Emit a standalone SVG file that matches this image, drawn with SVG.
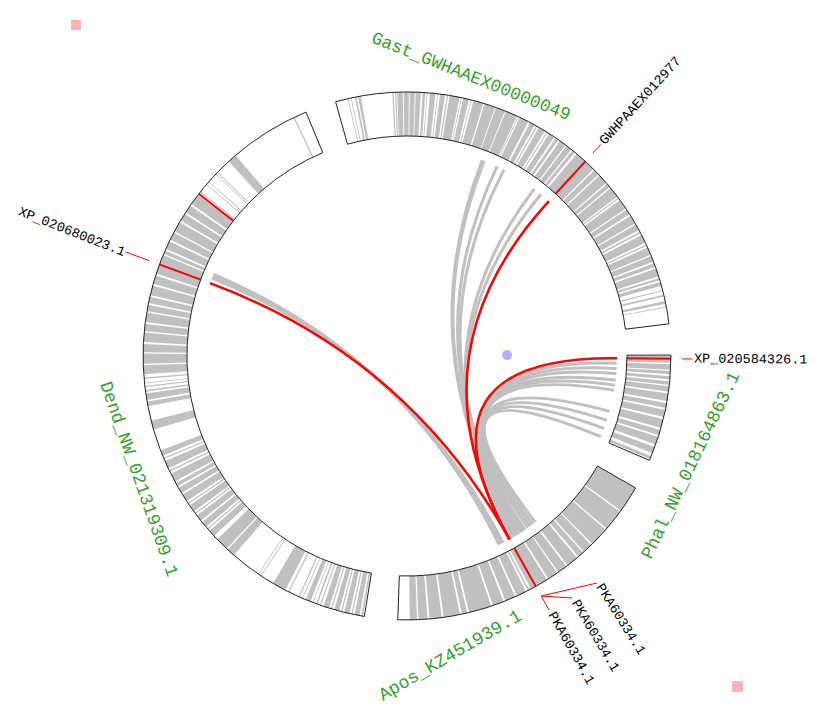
<svg xmlns="http://www.w3.org/2000/svg" width="824" height="727" viewBox="0 0 824 727">
<style>
.band{fill:none;stroke:#c0c0c0;stroke-width:44}
.out{fill:none;stroke:#222;stroke-width:1}
.mark{stroke:#f00;stroke-width:2}
.lk{fill:none;stroke:#c0c0c0;stroke-width:3}
.lr{fill:none;stroke:#f00;stroke-width:2.5}
.lab{font-family:"Liberation Mono",monospace;font-size:18px;fill:#33a02c}
.tag{font-family:"Liberation Mono",monospace;font-size:13.5px;fill:#000;dominant-baseline:central}
.ptr{stroke:#f00;stroke-width:1;fill:none}
</style>
<rect width="824" height="727" fill="#fff"/>
<rect x="71" y="20" width="10" height="10" fill="#ffb3b3"/>
<rect x="732" y="681" width="11" height="11" fill="#ffb3b3"/>

<g id="gast">
<circle class="band" cx="407" cy="356" r="242" pathLength="360" transform="rotate(-105.7 407 356)" stroke-dasharray="0 2.7 0.2 0.5 0.2 0.7 0.4 0.3 0.6 6.9 0.3 0.3 0.3 0.2 1.2 0.2 1.1 0.2 1.1 0.2 1.1 0.4 0.6 0.3 0.2 0.5 1.2 0.4 0.2 0.4 1.1 0.4 0.3 0.3 2.2 0.3 0.2 0.3 1.3 0.4 0.2 0.4 2.2 0.3 2.4 0.2 2.1 0.2 2.6 0.2 0.2 0.3 2.1 0.4 1.1 0.4 0.3 0.4 1.5 0.4 0.3 0.4 1.3 0.4 0.7 0.4 1.5 0.3 1.3 0.3 0.7 0.5 4.9 0.3 1.3 0.3 2.2 0.3 0.9 0.3 2.3 0.3 0.3 0.4 2.2 0.3 1.2 0.4 1.9 0.3 1.4 0.4 0.4 0.4 1.9 0.4 0.3 0.4 1.7 0.3 1.3 0.4 0.8 0.4 1.8 0.4 0.5 0.4 0.9 0.9 0.3 0.8 0.4 1.0 0.6 0.6 0.2 400"/>
<line class="mark" x1="407" y1="136" x2="407" y2="92" transform="rotate(42.5 407 356)"/>
<path class="out" d="M335.6,101.8 A264,264 0 0 1 669.0,323.8 L625.4,329.2 A220,220 0 0 0 347.5,144.2 Z"/>
<text class="lab" style="font-size:17.7px" transform="translate(370.5,42) rotate(21.7)">Gast_GWHAAEX00000049</text>
<line class="ptr" x1="592.8" y1="153.2" x2="600.9" y2="144.4"/>
<text class="tag" transform="translate(602.2,142.9) rotate(-47.5)">GWHPAAEX012977</text>
</g>

<g id="phal">
<circle class="band" cx="407" cy="356" r="242" pathLength="360" transform="rotate(-0.2 407 356)" stroke-dasharray="0 0.2 1.5 0.3 1.2 0.3 0.7 0.4 0.7 0.4 0.8 0.3 1.2 0.4 1.6 0.5 1.1 0.4 1.6 0.5 1.9 0.5 1.2 0.4 1.7 0.6 1.4 0.7 0.7 400"/>
<line class="mark" x1="407" y1="136" x2="407" y2="92" transform="rotate(90.6 407 356)"/>
<path class="out" d="M671.0,355.1 A264,264 0 0 1 649.5,460.4 L609.0,443.0 A220,220 0 0 0 627.0,355.2 Z"/>
<text class="lab" transform="translate(651,560) rotate(-64.3)">Phal_NW_018164863.1</text>
<line class="ptr" x1="682" y1="358.9" x2="692" y2="359"/>
<text class="tag" transform="translate(694,359) rotate(0.6)">XP_020584326.1</text>
</g>

<g id="apos">
<circle class="band" cx="407" cy="356" r="242" pathLength="360" transform="rotate(30 407 356)" stroke-dasharray="5.9 0.3 4.7 0.3 4.2 0.3 2.2 0.3 1.3 0.4 2.6 0.4 2.1 0.3 2.3 0.4 4.0 0.4 0.4 0.4 2.2 0.4 2.3 0.4 2.5 0.4 5.0 0.4 1.2 0.4 3.6 0.4 2.7 0.4 2.0 0.3 1.6 400"/>
<line class="mark" x1="407" y1="136" x2="407" y2="92" transform="rotate(150.8 407 356)"/>
<path class="out" d="M635.6,488 A264,264 0 0 1 397.8,619.8 L399.3,575.9 A220,220 0 0 0 597.5,466 Z"/>
<text class="lab" transform="translate(383,701) rotate(-30.4)">Apos_KZ451939.1</text>
<path class="ptr" d="M597,583 L541.2,596 L572,598 M541.2,596 L549,610"/>
<text class="tag" transform="translate(599,585) rotate(58)">PKA60334.1</text>
<text class="tag" transform="translate(574.5,601) rotate(59.5)">PKA60334.1</text>
<text class="tag" transform="translate(551,613) rotate(60.5)">PKA60334.1</text>
</g>

<g id="dend">
<circle class="band" cx="407" cy="356" r="242" pathLength="360" transform="rotate(99.3 407 356)" stroke-dasharray="0 0.3 0.4 0.4 1.1 0.4 0.3 0.4 1.2 0.4 0.3 0.4 1.1 0.5 0.3 0.4 1.3 0.5 0.3 0.5 0.4 0.6 0.2 0.5 1.1 0.6 0.2 0.6 0.3 2.2 0.3 0.7 3.0 3.0 0.2 0.5 0.2 6.6 1.8 0.3 2.9 1.0 1.5 0.4 0.3 0.4 1.4 0.4 1.4 0.4 0.3 0.4 1.6 0.4 0.3 0.4 1.7 0.4 1.3 0.4 0.8 0.4 1.9 0.5 0.3 0.5 1.7 0.5 0.3 0.5 1.2 4.8 2.0 3.2 1.0 0.4 1.4 0.4 0.4 0.6 0.3 0.5 0.2 0.8 0.3 0.7 2.0 0.3 2.2 0.3 1.8 0.4 2.1 0.3 1.6 0.4 2.1 0.3 1.4 0.4 1.4 0.4 2.1 0.4 1.9 0.4 4.3 0.3 0.8 0.4 1.8 0.4 1.7 0.3 2.3 0.4 1.7 0.4 1.8 0.4 2.4 0.7 0.3 1.9 0.2 0.5 0.2 2.1 0.2 0.3 0.2 3.3 2.0 15.0 0.3 400"/>
<line class="mark" x1="407" y1="136" x2="407" y2="92" transform="rotate(290.3 407 356)"/>
<line class="mark" x1="407" y1="136" x2="407" y2="92" transform="rotate(307.9 407 356)"/>
<path class="out" d="M364.3,616.5 A264,264 0 0 1 306.0,112.1 L322.8,152.7 A220,220 0 0 0 371.4,573.1 Z"/>
<text class="lab" transform="translate(100,384) rotate(70.7)">Dend_NW_021319309.1</text>
<line class="ptr" x1="149.1" y1="260.6" x2="125.6" y2="251.9"/>
<text class="tag" text-anchor="end" transform="translate(124.5,253) rotate(21.5)">XP_020680023.1</text>
</g>

<g id="links">
<path class="lk" d="M213.6,274.3 Q407,356 499.1,544.7"/>
<path class="lk" d="M212.9,276.0 Q407,356 500.7,543.9"/>
<path class="lk" d="M212.0,278.0 Q407,356 503.0,542.8"/>
<path class="lk" d="M482.3,160.0 Q407,356 518.3,534.1"/>
<path class="lk" d="M484.3,160.7 Q407,356 519.8,533.1"/>
<path class="lk" d="M497.1,166.3 Q407,356 522.0,531.7"/>
<path class="lk" d="M504.0,169.7 Q407,356 523.8,530.5"/>
<path class="lk" d="M534.3,188.9 Q407,356 513.6,536.9"/>
<path class="lk" d="M540.9,194.2 Q407,356 511.4,538.2"/>
<path class="lk" d="M616.9,363.3 Q407,356 515.2,536.0"/>
<path class="lk" d="M616.6,368.5 Q407,356 516.4,535.3"/>
<path class="lk" d="M616.3,373.6 Q407,356 517.7,534.5"/>
<path class="lk" d="M615.6,380.1 Q407,356 520.1,532.9"/>
<path class="lk" d="M615.0,385.2 Q407,356 522.6,531.3"/>
<path class="lk" d="M614.2,390.3 Q407,356 525.0,529.7"/>
<path class="lk" d="M609.6,411.4 Q407,356 528.0,527.6"/>
<path class="lk" d="M606.9,420.2 Q407,356 530.4,525.9"/>
<path class="lk" d="M604.1,428.5 Q407,356 532.8,524.1"/>
<path class="lk" d="M600.9,436.7 Q407,356 535.4,522.2"/>
<path class="lr" d="M210.0,283.2 Q407,356 509.5,539.3"/>
<path class="lr" d="M548.9,201.2 Q407,356 509.5,539.3"/>
<path class="lr" d="M617.0,358.2 Q407,356 509.5,539.3"/>
</g>
<circle cx="507" cy="355" r="5" fill="#b3b3ff"/>
</svg>
